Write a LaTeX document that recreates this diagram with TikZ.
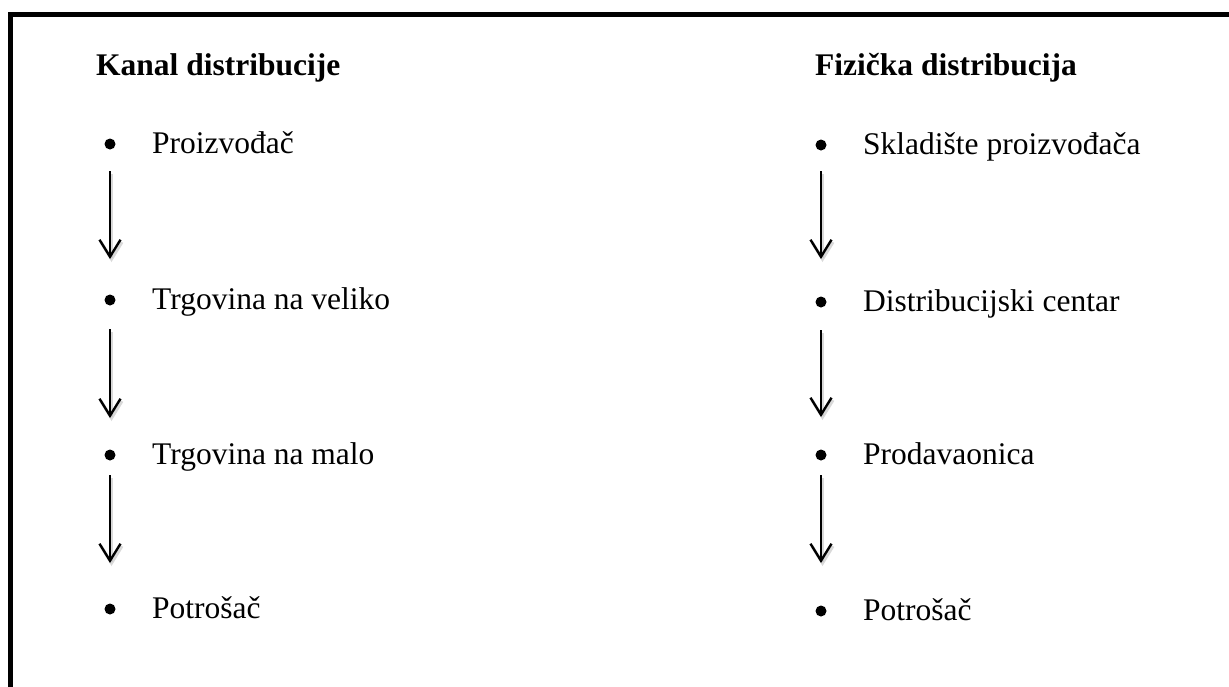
\documentclass[tikz,border=0pt]{standalone}
\usepackage{fontspec}
\setmainfont{Liberation Serif}
\usetikzlibrary{arrows.meta}
\begin{document}
\begin{tikzpicture}[x=1pt,y=-1pt,
  label/.style={anchor=base west,inner sep=0pt,font=\fontsize{31.5}{38}\selectfont},
  head/.style={anchor=base west,inner sep=0pt,font=\fontsize{31.5}{38}\selectfont\bfseries},
  dot/.style={circle,fill=black,inner sep=0pt,minimum size=11pt},
  flow/.style={line width=2.4pt,-{Straight Barb[length=17pt,width=21pt,line width=2.4pt]}},
  flowshadow/.style={line width=3pt,draw=black!25,opacity=0.6,-{Straight Barb[length=17pt,width=21pt,line width=3pt]}}
]
\useasboundingbox (0,0) rectangle (1229,686);
% frame
\draw[line width=5pt,line cap=rect] (10,686) -- (10,14) -- (1232,14);

% headings
\node[head] (h1) at (96,75) {Kanal distribucije};
\node[head] (h2) at (815,75) {Fizička distribucija};

% left column
\node[dot] (l1) at (110,144) {};
\node[dot] (l2) at (110,300) {};
\node[dot] (l3) at (110,455) {};
\node[dot] (l4) at (110,609) {};
\node[label] (lt1) at (152,153) {Proizvođač};
\node[label] (lt2) at (152,309) {Trgovina na veliko};
\node[label] (lt3) at (152,464) {Trgovina na malo};
\node[label] (lt4) at (152,618) {Potrošač};

% right column
\node[dot] (r1) at (821,145) {};
\node[dot] (r2) at (821,302) {};
\node[dot] (r3) at (821,455) {};
\node[dot] (r4) at (821,611) {};
\node[label] (rt1) at (863,154) {Skladište proizvođača};
\node[label] (rt2) at (863,311) {Distribucijski centar};
\node[label] (rt3) at (863,464) {Prodavaonica};
\node[label] (rt4) at (863,620) {Potrošač};

% arrow endpoints
\coordinate (la1) at (110,171); \coordinate (lb1) at (110,259);
\coordinate (la2) at (110,329); \coordinate (lb2) at (110,418);
\coordinate (la3) at (110,475); \coordinate (lb3) at (110,563);
\coordinate (ra1) at (821,171); \coordinate (rb1) at (821,259);
\coordinate (ra2) at (821,330); \coordinate (rb2) at (821,417);
\coordinate (ra3) at (821,475); \coordinate (rb3) at (821,563);

\foreach \a/\b in {la1/lb1,la2/lb2,la3/lb3,ra1/rb1,ra2/rb2,ra3/rb3}{
  \draw[flowshadow] ([shift={(1.5,3)}]\a) -- ([shift={(1.5,3)}]\b);
  \draw[flow] (\a) -- (\b);
}
\end{tikzpicture}
\end{document}
